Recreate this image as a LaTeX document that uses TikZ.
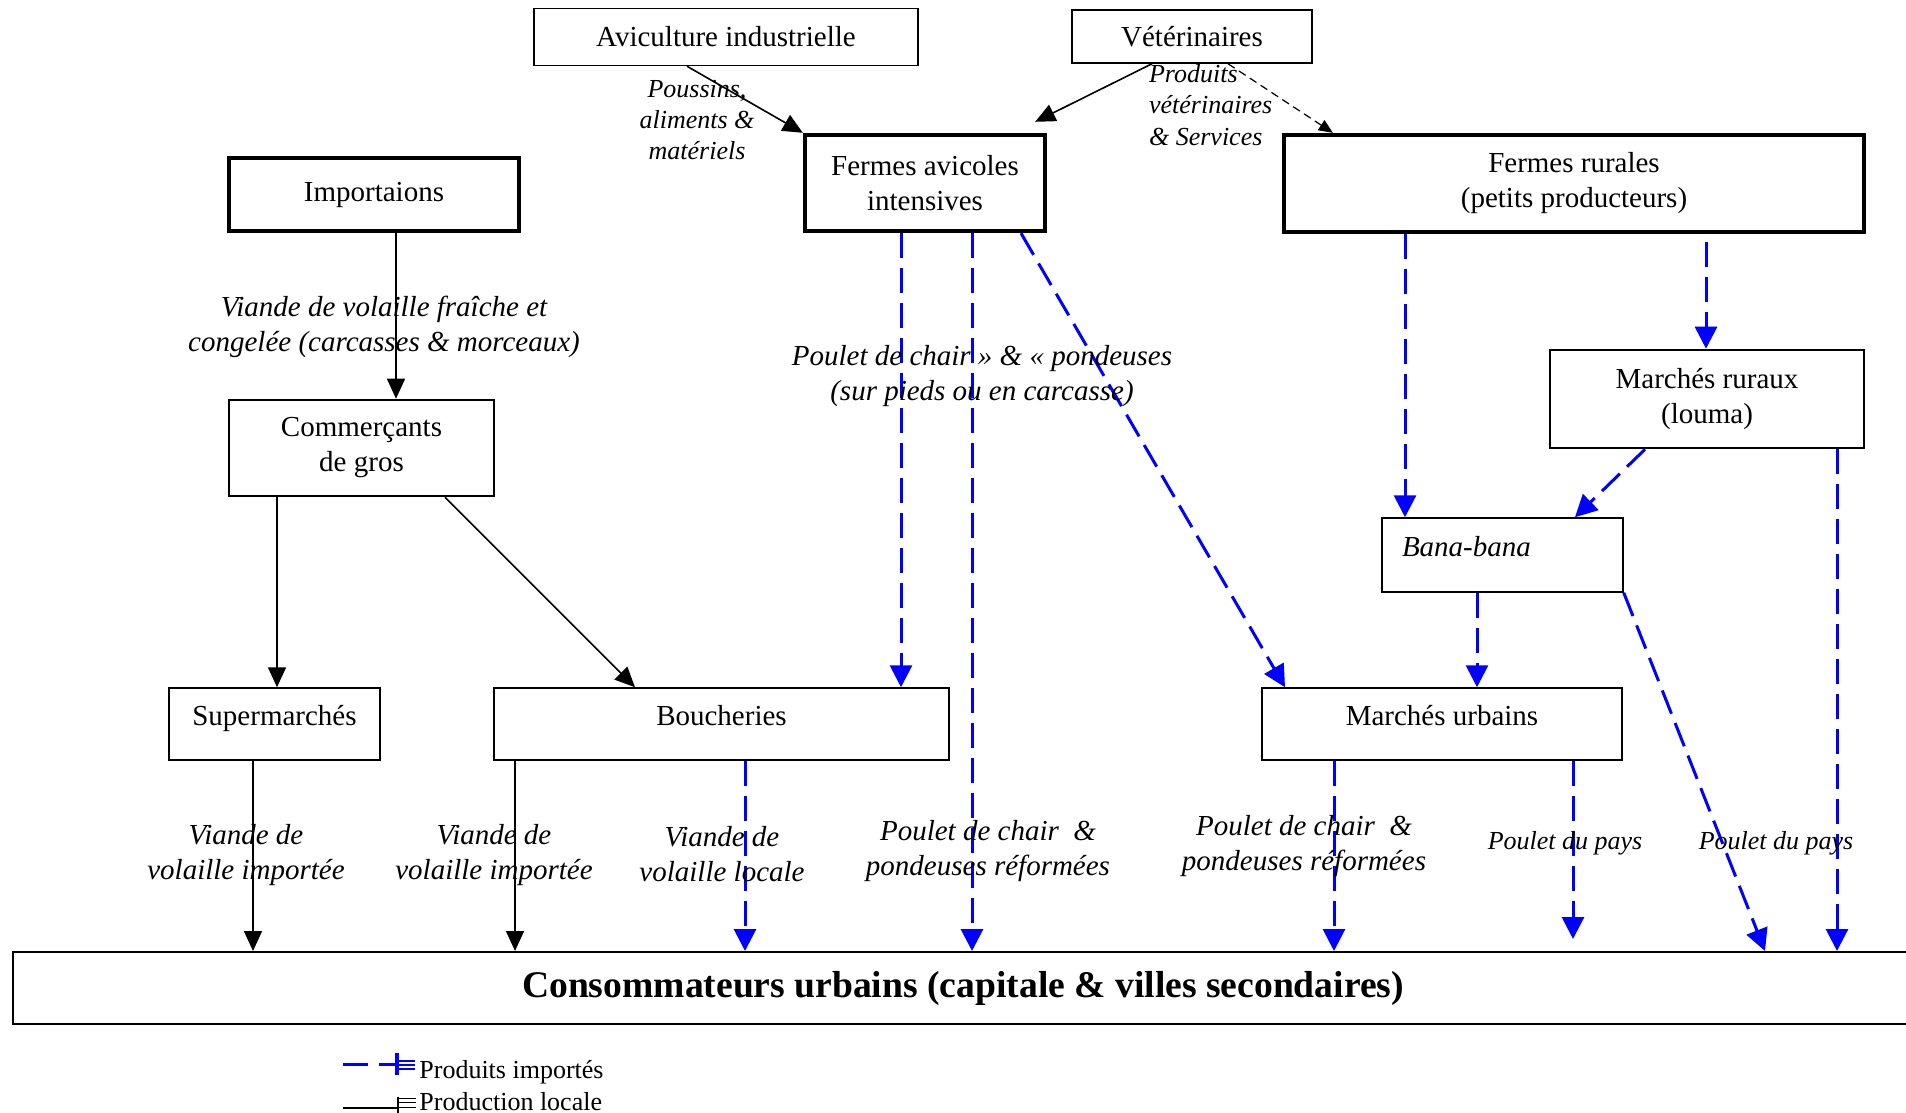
\documentclass[tikz,border=0pt]{standalone}
\usepackage{fontspec}
\setmainfont{Liberation Serif}
\usetikzlibrary{arrows.meta}
\begin{document}
\begin{tikzpicture}[x=0.5pt, y=-0.5pt,
  box/.style={draw, line width=0.75pt, font=\fontsize{14.5}{17.5}\selectfont, align=center, inner sep=0pt},
  thickbox/.style={box, line width=2.2pt},
  midbox/.style={box, line width=1.3pt},
  raised/.style={text height=8pt, text depth=6.5pt},
  flow/.style={-{Triangle[length=10pt,width=9pt]}, line width=0.8pt},
  impflow/.style={-{Triangle[length=11pt,width=11pt]}, blue, line width=1.5pt, dash pattern=on 12.5pt off 5pt},
  lab/.style={font=\fontsize{14.5}{17.5}\selectfont\itshape, align=center},
  slab/.style={font=\fontsize{13}{15.6}\selectfont\itshape, align=center},
  legtext/.style={font=\fontsize{13}{15.6}\selectfont, anchor=west, inner sep=0pt}]
\useasboundingbox (0,0) rectangle (1906,1113);

\node[box, minimum width=192pt, minimum height=28.5pt] (avic) at (726,37) {Aviculture industrielle};
\node[box, minimum width=120pt, minimum height=26.5pt] (vet) at (1192,36.5) {Vétérinaires};
\node[thickbox, minimum width=145pt, minimum height=36.5pt] (imp) at (374,194.5) {Importaions};
\node[thickbox, minimum width=120pt, minimum height=48pt] (fav) at (925,183) {Fermes avicoles\\intensives};
\node[thickbox, minimum width=290pt, minimum height=48.5pt] (frur) at (1574,183.5) {Fermes rurales\\(petits producteurs)};
\node[midbox, minimum width=157pt, minimum height=49pt] (mrur) at (1707,399) {Marchés ruraux\\(louma)};
\node[midbox, minimum width=132.5pt, minimum height=48pt] (comm) at (361.5,448) {Commerçants\\de gros};
\node[box, raised, minimum width=120.5pt, minimum height=37pt, text width=100.5pt, align=left,
  font=\fontsize{14.5}{17.5}\selectfont\itshape] (bana) at (1502.5,555) {Bana-bana};
\node[box, raised, minimum width=105.5pt, minimum height=36pt] (super) at (274.5,724) {Supermarchés};
\node[box, raised, minimum width=227.5pt, minimum height=36pt] (bouch) at (721.5,724) {Boucheries};
\node[box, raised, minimum width=180pt, minimum height=36pt] (murb) at (1442,724) {Marchés urbains};
\node[box, line width=1pt, minimum width=950pt, minimum height=36pt,
  font=\fontsize{18.8}{22.5}\selectfont\bfseries] (cons) at (963,988) {Consommateurs urbains (capitale \& villes secondaires)};

\draw[flow] ([xshift=-19.5pt]avic.south) -- (fav.north west);
\draw[flow] ([xshift=-20pt]vet.south) -- ([xshift=-6pt,yshift=5.5pt]fav.north east);
\draw[-{Triangle[length=7pt,width=6pt]}, line width=0.6pt, dash pattern=on 4pt off 2.5pt]
  ([xshift=18pt]vet.south) -- ([xshift=25.5pt]frur.north west);
\draw[flow] ([xshift=11pt]imp.south) -- ([xshift=17.25pt]comm.north);
\draw[flow] ([xshift=-42.25pt]comm.south) -- ([xshift=1.25pt]super.north);
\draw[flow] ([xshift=41.75pt]comm.south) -- ([xshift=-43.25pt]bouch.north);
\draw[impflow] ([xshift=-12pt]fav.south) -- ([xshift=89.75pt]bouch.north);
\draw[impflow] ([xshift=23.5pt]fav.south) -- ([xshift=4.5pt]cons.north);
\draw[impflow] ([xshift=48pt]fav.south) -- ([xshift=-78.5pt]murb.north);
\draw[impflow] ([xshift=-84.5pt]frur.south) -- ([xshift=-48.75pt]bana.north);
\draw[impflow] ([xshift=66pt,yshift=-4pt]frur.south) -- ([xshift=-0.5pt]mrur.north);
\draw[impflow] ([xshift=-31pt]mrur.south) -- ([xshift=36.25pt]bana.north);
\draw[impflow] ([xshift=65pt]mrur.south) -- ([xshift=437pt]cons.north);
\draw[impflow] ([xshift=-12.75pt]bana.south) -- ([xshift=17.5pt]murb.north);
\draw[impflow] (bana.south east) -- ([xshift=401pt]cons.north);
\draw[flow] ([xshift=-10.75pt]super.south) -- ([xshift=-355pt]cons.north);
\draw[flow] ([xshift=-103.25pt]bouch.south) -- ([xshift=-224pt]cons.north);
\draw[impflow] ([xshift=11.75pt]bouch.south) -- ([xshift=-109pt]cons.north);
\draw[impflow] ([xshift=-54pt]murb.south) -- ([xshift=185.5pt]cons.north);
\draw[impflow] ([xshift=65.5pt]murb.south) -- ([xshift=305pt,yshift=6pt]cons.north);

\node[slab] (poussins) at (697,120) {Poussins,\\aliments \&\\matériels};
\node[slab, align=left, anchor=west] (produits) at (1142,105) {Produits\\vétérinaires\\\& Services};
\node[lab] (viandefc) at (384,327) {Viande de volaille fraîche et\\congelée (carcasses \& morceaux)};
\node[lab] (pouletcp) at (982,376) {Poulet de chair » \& « pondeuses\\(sur pieds ou en carcasse)};
\node[lab] (viandeim1) at (246,855) {Viande de\\volaille importée};
\node[lab] (viandeim2) at (494,855) {Viande de\\volaille importée};
\node[lab] (viandeloc) at (722,854) {Viande de\\volaille locale};
\node[lab] (pouletref1) at (988,851) {Poulet de chair~~\&\\pondeuses réformées};
\node[lab] (pouletref2) at (1304,846) {Poulet de chair~~\&\\pondeuses réformées};
\node[slab] (pays1) at (1565,843) {Poulet du pays};
\node[slab] (pays2) at (1776,843) {Poulet du pays};

\coordinate (kimpa) at (343,1064);
\coordinate (kimpb) at (397,1064);
\coordinate (kloca) at (343,1108);
\coordinate (klocb) at (398,1108);
\draw[blue, line width=1.5pt, dash pattern=on 12.5pt off 5.5pt] (kimpa) -- (kimpb);
\draw[blue, line width=2pt] ([yshift=5.5pt]kimpb) -- ([yshift=-5.5pt]kimpb);
\draw[blue, line width=0.6pt] ([yshift=1.5pt]kimpb) -- ++(9pt,0) ([yshift=-0.5pt]kimpb) -- ++(9pt,0)
  ([yshift=-2.5pt]kimpb) -- ++(9pt,0);
\draw[line width=0.8pt] (kloca) -- (klocb);
\draw[line width=0.6pt] ([yshift=5.5pt]klocb) -- ([yshift=-4pt]klocb);
\draw[line width=0.5pt] ([yshift=5pt]klocb) -- ++(9pt,0) ([yshift=3pt]klocb) -- ++(9pt,0)
  ([yshift=0.5pt]klocb) -- ++(9pt,0);
\node[legtext] (legimp) at (419,1072) {Produits importés};
\node[legtext] (legloc) at (419,1102) {Production locale};
\end{tikzpicture}
\end{document}
